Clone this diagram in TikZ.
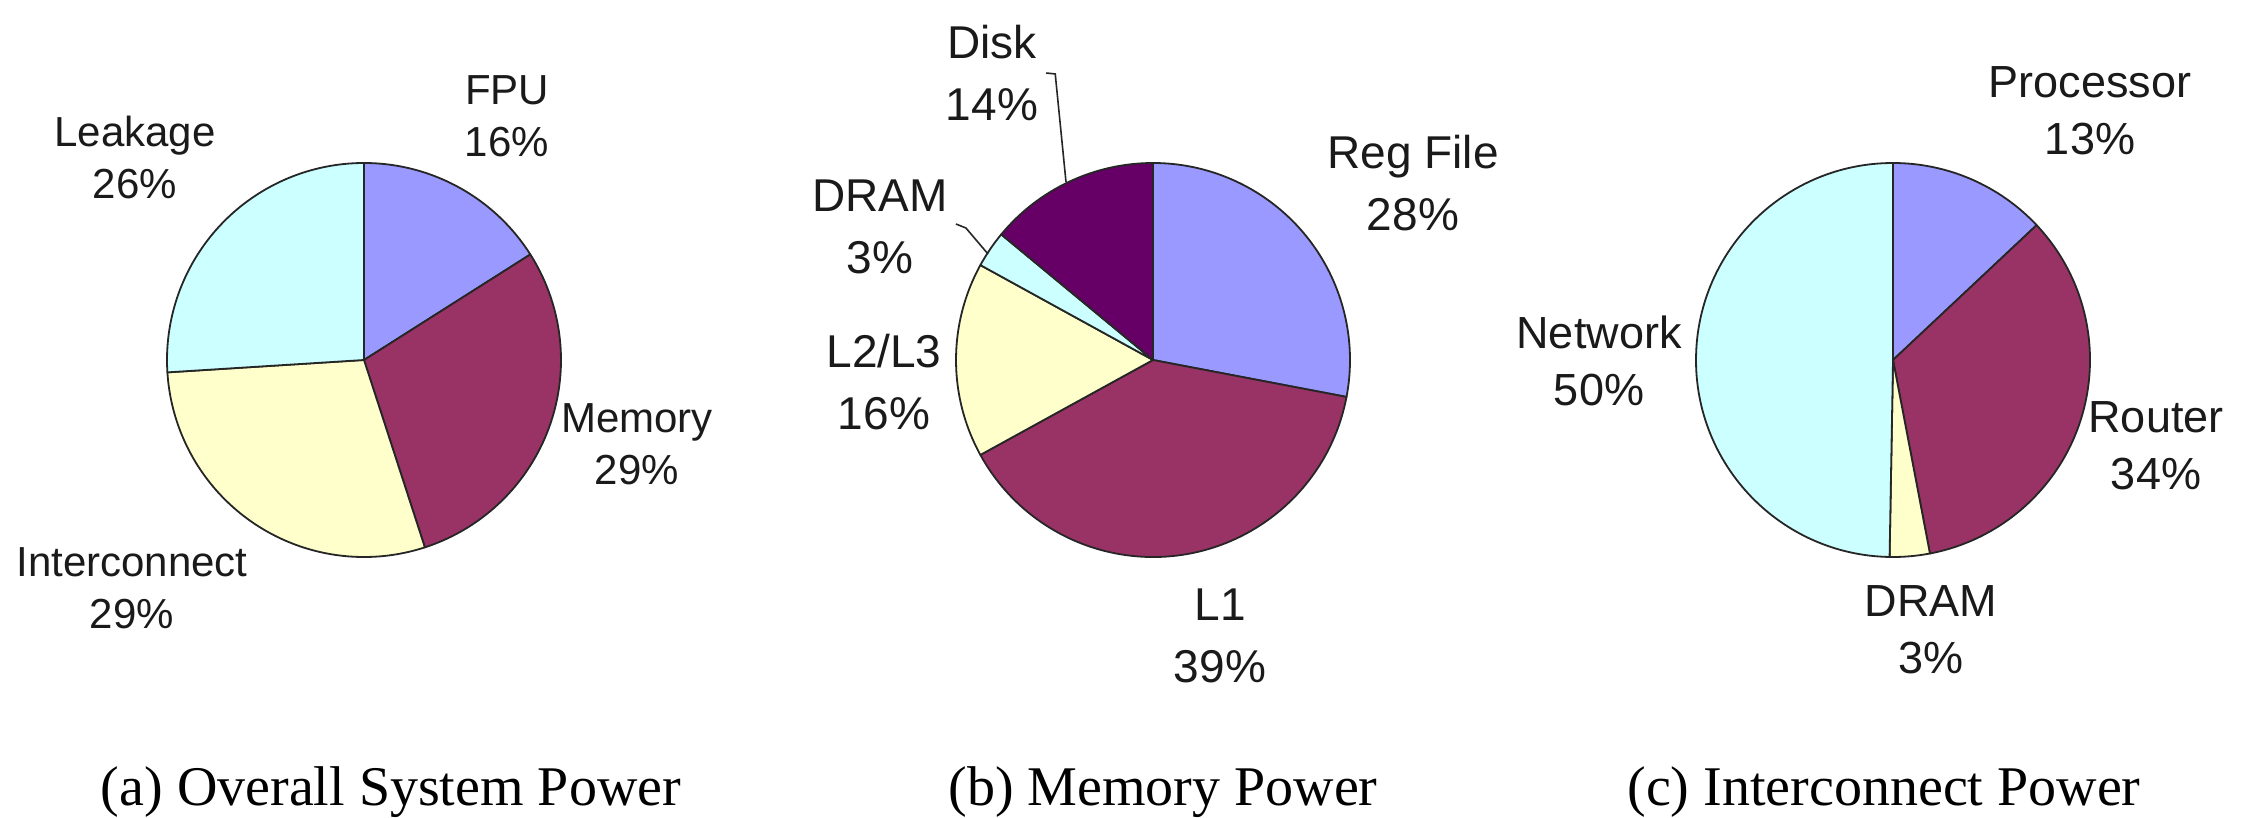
\documentclass[tikz,border=0pt]{standalone}
\usepackage{fontspec}
\setmainfont{Liberation Serif}
\newfontfamily\arialfont{Liberation Sans}
\definecolor{cBlue}{HTML}{9999FF}
\definecolor{cPlum}{HTML}{993366}
\definecolor{cCream}{HTML}{FFFFCC}
\definecolor{cCyan}{HTML}{CCFFFF}
\definecolor{cPurple}{HTML}{660066}
\definecolor{cText}{HTML}{1A1A1A}
\def\pr{197pt}
\newcommand{\pieslice}[4]{%
  \filldraw[fill=#4, slicestyle] (#1) -- ++(#2:\pr) arc[start angle=#2, end angle=#3, radius=\pr] -- cycle;}
\tikzset{
  slicestyle/.style={draw=black!85, line width=1.8pt, line join=round},
  lblA/.style={inner sep=0pt, align=center, text=cText, font=\arialfont\fontsize{42}{52}\selectfont},
  lblB/.style={inner sep=0pt, align=center, text=cText, font=\arialfont\fontsize{46}{62}\selectfont},
  lblC/.style={inner sep=0pt, align=center, text=cText, font=\arialfont\fontsize{45}{57}\selectfont},
  captionstyle/.style={inner sep=0pt, text=black, font=\fontsize{56}{60}\selectfont},
  leader/.style={draw=black!85, line width=1.6pt}
}
\begin{document}
\begin{tikzpicture}[x=1pt, y=-1pt]
\path[use as bounding box, fill=white] (0,0) rectangle (2251,818);

% ---------- pie (a) ----------
\coordinate (A) at (364,360);
\pieslice{A}{90}{32.4}{cBlue}
\pieslice{A}{32.4}{-72}{cPlum}
\pieslice{A}{-72}{-176.4}{cCream}
\pieslice{A}{-176.4}{-270}{cCyan}
\node[lblA] (fpu) at (507,116) {FPU\\16\%};
\node[lblA] (leak) at (135,157) {Leakage\\26\%};
\node[lblA] (mem) at (637,444) {Memory\\29\%};
\node[lblA] (inter) at (132,588) {Interconnect\\29\%};

% ---------- pie (b) ----------
\coordinate (B) at (1153,360);
\pieslice{B}{90}{-10.8}{cBlue}
\pieslice{B}{-10.8}{-151.2}{cPlum}
\pieslice{B}{-151.2}{-208.8}{cCream}
\pieslice{B}{-208.8}{-219.6}{cCyan}
\pieslice{B}{-219.6}{-270}{cPurple}
\node[lblB] (disk) at (992,73) {Disk\\14\%};
\node[lblB] (regfile) at (1413,183) {Reg File\\28\%};
\node[lblB] (dramb) at (880,227) {DRAM\\3\%};
\node[lblB] (l23) at (884,382) {L2/L3\\16\%};
\node[lblB] (lone) at (1220,636) {L1\\39\%};
\coordinate (diskpt) at (1066,182);
\coordinate (drampt) at (988,254);
\draw[leader] (disk.east) ++(8,0) -- ++(9,1) -- (diskpt);
\draw[leader] (dramb.east) ++(8,-3) -- ++(10,4) -- (drampt);

% ---------- pie (c) ----------
\coordinate (C) at (1893,360);
\pieslice{C}{90}{43.2}{cBlue}
\pieslice{C}{43.2}{-79.2}{cPlum}
\pieslice{C}{-79.2}{-91}{cCream}
\pieslice{C}{-91}{-270}{cCyan}
\node[lblC] (proc) at (2090,111) {Processor\\13\%};
\node[lblC] (net) at (1599,361) {Network\\50\%};
\node[lblC] (router) at (2156,446) {Router\\34\%};
\node[lblC] (dramc) at (1931,630) {DRAM\\3\%};

% ---------- captions ----------
\node[captionstyle] (capa) at (391,792) {(a) Overall System Power};
\node[captionstyle] (capb) at (1163,792) {(b) Memory Power};
\node[captionstyle] (capc) at (1884,792) {(c) Interconnect Power};
\end{tikzpicture}
\end{document}
